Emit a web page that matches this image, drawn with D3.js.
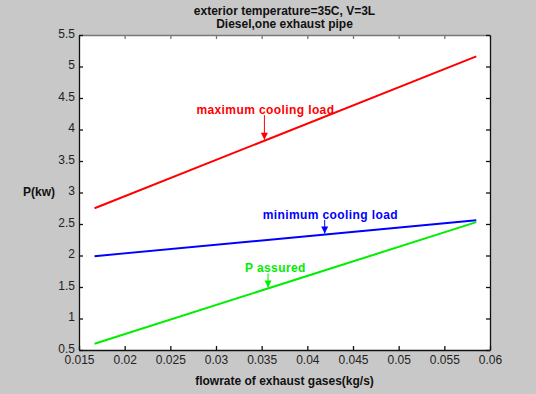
<!DOCTYPE html>
<html>
<head>
<meta charset="utf-8">
<script src="https://cdn.jsdelivr.net/npm/d3@7"></script>
<style>
  html, body { margin: 0; padding: 0; background: #c8c8c8; }
  svg { display: block; }
  text { font-family: "Liberation Sans", Arial, sans-serif; }
</style>
</head>
<body>
<svg id="chart" width="536" height="394"></svg>
<script>
// Flow rate of exhaust gases (kg/s) at the two ends of each line
const flowrate = [0.0167, 0.0585];
// Power (kW) for each curve
const maxCoolingLoad = [2.75, 5.16];
const minCoolingLoad = [1.99, 2.56];
const pAssured = [0.60, 2.53];

const xTicks = [0.015, 0.02, 0.025, 0.03, 0.035, 0.04, 0.045, 0.05, 0.055, 0.06];
const yTicks = [0.5, 1, 1.5, 2, 2.5, 3, 3.5, 4, 4.5, 5, 5.5];

const titleLines = ["exterior temperature=35C, V=3L", "Diesel,one exhaust pipe"];
const xLabel = "flowrate of exhaust gases(kg/s)";
const yLabel = "P(kw)";

// Curve labels with the flow rate where each arrow meets its line
const series = [
  { name: "maximum cooling load", values: maxCoolingLoad, color: "#ff0000", arrowAt: 0.0353, dx: -68, textDy: -22.5 },
  { name: "minimum cooling load", values: minCoolingLoad, color: "#0000ff", arrowAt: 0.0419, dx: -62, textDy: -11.5 },
  { name: "P assured", values: pAssured, color: "#00ee00", arrowAt: 0.0357, dx: -23, textDy: -12 }
];

const margin = { left: 79, top: 35, right: 46, bottom: 44 };
const W = 536, H = 394;
const svg = d3.select("#chart");

const x = d3.scaleLinear().domain([0.015, 0.06]).range([margin.left, W - margin.right]);
const y = d3.scaleLinear().domain([0.5, 5.5]).range([H - margin.bottom, margin.top]);

// plot area
svg.append("rect")
  .attr("x", x.range()[0]).attr("y", y.range()[1])
  .attr("width", x.range()[1] - x.range()[0])
  .attr("height", y.range()[0] - y.range()[1])
  .attr("fill", "#ffffff");

const fmt = d => String(d);

// bottom axis
const gx = svg.append("g").attr("transform", `translate(0,${y.range()[0]})`)
  .call(d3.axisBottom(x).tickValues(xTicks).tickFormat(fmt).tickSizeInner(-4).tickSizeOuter(0).tickPadding(3));
// top axis (ticks only)
const gxt = svg.append("g").attr("transform", `translate(0,${y.range()[1]})`)
  .call(d3.axisTop(x).tickValues(xTicks).tickFormat("").tickSizeInner(-4).tickSizeOuter(0));
// left axis
const gy = svg.append("g").attr("transform", `translate(${x.range()[0]},0)`)
  .call(d3.axisLeft(y).tickValues(yTicks).tickFormat(fmt).tickSizeInner(-4).tickSizeOuter(0).tickPadding(4));
// right axis (ticks only)
const gyr = svg.append("g").attr("transform", `translate(${x.range()[1]},0)`)
  .call(d3.axisRight(y).tickValues(yTicks).tickFormat("").tickSizeInner(-4).tickSizeOuter(0));

[gx, gy, gyr].forEach(g => {
  g.selectAll("path, line").attr("stroke", "#111").attr("stroke-width", 1.3);
  g.selectAll("text").attr("fill", "#222").style("font-size", "12px")
    .style("font-family", "'Liberation Sans', Arial, sans-serif");
});
gxt.selectAll("path, line").attr("stroke", "#777").attr("stroke-width", 1.3);
gx.selectAll("text").attr("dy", "0.95em");
gy.selectAll("text").attr("dy", "0.2em");

// lines
const line = d3.line().x(d => x(d[0])).y(d => y(d[1]));
series.forEach(s => {
  const pts = flowrate.map((f, i) => [f, s.values[i]]);
  svg.append("path").datum(pts)
    .attr("d", line)
    .attr("fill", "none")
    .attr("stroke", s.color)
    .attr("stroke-width", 2);
});

// arrow annotations
const interp = (s, f) => {
  const t = (f - flowrate[0]) / (flowrate[1] - flowrate[0]);
  return s.values[0] + t * (s.values[1] - s.values[0]);
};
series.forEach(s => {
  const tx = x(s.arrowAt);
  const ty = y(interp(s, s.arrowAt));
  const textY = ty + s.textDy - 4;
  svg.append("text")
    .attr("x", tx + s.dx).attr("y", textY)
    .attr("fill", s.color)
    .style("font-size", "12px").style("font-weight", "bold").style("letter-spacing", "0.4px")
    .text(s.name);
  svg.append("line")
    .attr("x1", tx).attr("x2", tx)
    .attr("y1", textY + 1).attr("y2", ty - 1)
    .attr("stroke", s.color).attr("stroke-width", 1);
  svg.append("path")
    .attr("d", `M${tx - 3.5},${ty - 8} L${tx + 3.5},${ty - 8} L${tx},${ty - 1} Z`)
    .attr("fill", s.color);
});

// titles
svg.selectAll("text.title").data(titleLines).enter().append("text")
  .attr("class", "title")
  .attr("x", (x.range()[0] + x.range()[1]) / 2)
  .attr("y", (d, i) => 15 + i * 13)
  .attr("text-anchor", "middle")
  .attr("fill", "#111")
  .style("font-size", "12px").style("font-weight", "bold")
  .text(d => d);

svg.append("text")
  .attr("x", (x.range()[0] + x.range()[1]) / 2)
  .attr("y", 385)
  .attr("text-anchor", "middle")
  .attr("fill", "#111")
  .style("font-size", "12px").style("font-weight", "bold")
  .text(xLabel);

svg.append("text")
  .attr("x", 23)
  .attr("y", 196)
  .attr("fill", "#111")
  .style("font-size", "12px").style("font-weight", "bold")
  .text(yLabel);
</script>
</body>
</html>
